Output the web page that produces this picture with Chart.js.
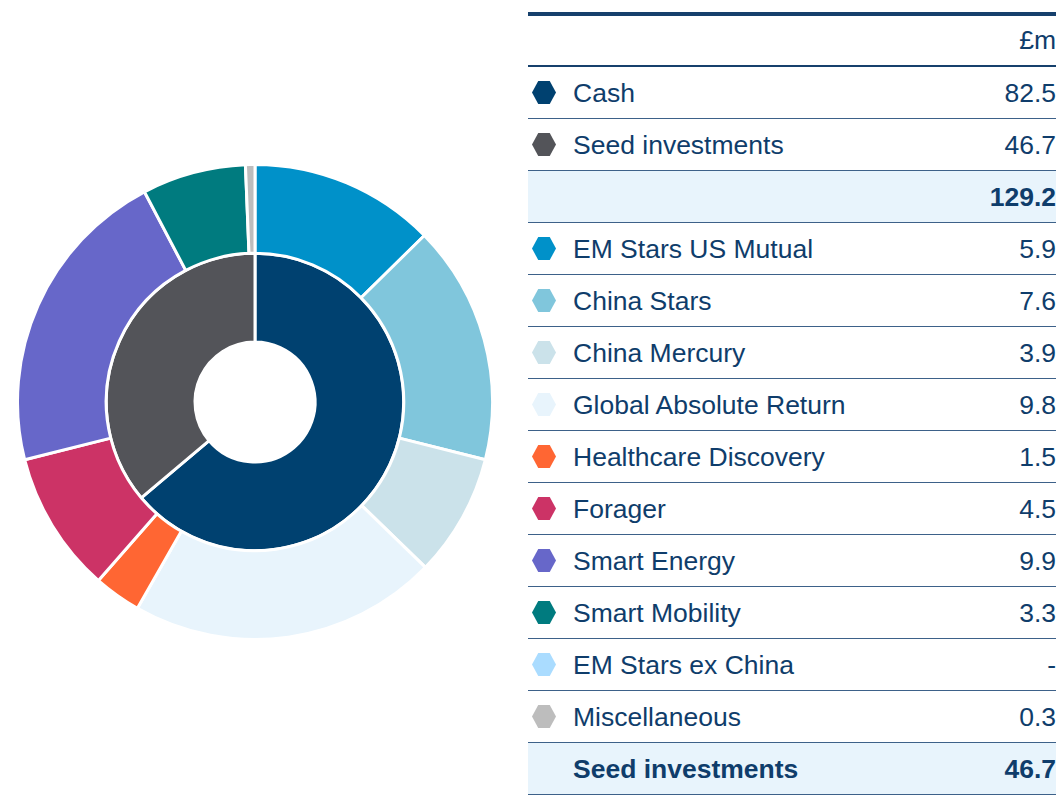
<!DOCTYPE html>
<html>
<head>
<meta charset="utf-8">
<script src="https://cdn.jsdelivr.net/npm/chart.js@4"></script>
<style>
  body { margin: 0; width: 1060px; height: 795px; background: #fff; overflow: hidden;
         font-family: "Liberation Sans", Arial, sans-serif; color: #0f3d6b; }
  #chartBox { position: absolute; left: 16px; top: 163px; width: 478px; height: 478px; }
  #table { position: absolute; left: 528px; top: 12px; width: 528px; border-top: 4px solid #16406c; }
  .head { height: 49px; border-bottom: 2px solid #16406c; position: relative; }
  .row { height: 51px; border-bottom: 1px solid #3d6189; position: relative; }
  .row.total { background: #e8f4fc; font-weight: bold; }
  .lbl { position: absolute; left: 45px; top: 1px; line-height: 51px; font-size: 26.5px; white-space: nowrap; }
  .val { position: absolute; right: 0; top: 1px; line-height: 51px; font-size: 26.5px; }
  .head .val { line-height: 49px; top: 0; }
  .hex { position: absolute; left: 4px; top: 14px; width: 24px; height: 23px;
         clip-path: polygon(26% 0, 74% 0, 100% 50%, 74% 100%, 26% 100%, 0 50%); }
</style>
</head>
<body>
<div id="chartBox"><canvas id="chart"></canvas></div>
<div id="table"></div>
<script>
'use strict';
// inner ring: cash vs seed
var mainLabels = ['Cash', 'Seed investments'];
var mainValues = [82.5, 46.7];
var mainColors = ['#004170', '#535459'];

// outer ring: seed investments breakdown
var seedLabels = ['EM Stars US Mutual', 'China Stars', 'China Mercury', 'Global Absolute Return',
  'Healthcare Discovery', 'Forager', 'Smart Energy', 'Smart Mobility', 'EM Stars ex China', 'Miscellaneous'];
var seedValues = [5.9, 7.6, 3.9, 9.8, 1.5, 4.5, 9.9, 3.3, 0, 0.3];
var seedColors = ['#0091c9', '#80c6dc', '#cbe2ea', '#e8f4fc', '#ff6633', '#cc3366', '#6767c9', '#007b7f', '#aadcff', '#bdbdbd'];

var ctx = document.getElementById('chart').getContext('2d');
var chart = new Chart(ctx, {
  type: 'doughnut',
  data: {
    labels: seedLabels,
    datasets: [{
      label: 'Seed investments',
      data: seedValues,
      backgroundColor: seedColors,
      borderColor: '#ffffff',
      borderWidth: 3
    },
    {
      label: 'Cash and seed',
      data: mainValues,
      backgroundColor: mainColors,
      borderColor: '#ffffff',
      borderWidth: 3
    }]
  },
  options: {
    responsive: true,
    maintainAspectRatio: false,
    animation: false,
    cutout: 60,
    plugins: { legend: { display: false }, tooltip: { enabled: false } },
    layout: { padding: 0 }
  }
});

//build the table
function fmt(v) {
  return v === 0 ? '-' : v.toFixed(1);
}
function addRow(cls, color, label, value) {
  var row = document.createElement('div');
  row.className = cls;
  if (color) {
    var hex = document.createElement('div');
    hex.className = 'hex';
    hex.style.background = color;
    row.appendChild(hex);
  }
  var l = document.createElement('div');
  l.className = 'lbl';
  l.textContent = label;
  row.appendChild(l);
  var v = document.createElement('div');
  v.className = 'val';
  v.textContent = value;
  row.appendChild(v);
  document.getElementById('table').appendChild(row);
}
addRow('head', null, '', '£m');
var mainTotal = 0;
for (var i = 0; i < mainLabels.length; i++) {
  addRow('row', mainColors[i], mainLabels[i], fmt(mainValues[i]));
  mainTotal += mainValues[i];
}
addRow('row total', null, '', mainTotal.toFixed(1));
var seedTotal = 0;
for (var j = 0; j < seedLabels.length; j++) {
  addRow('row', seedColors[j], seedLabels[j], fmt(seedValues[j]));
  seedTotal += seedValues[j];
}
addRow('row total', null, 'Seed investments', seedTotal.toFixed(1));
</script>
</body>
</html>
